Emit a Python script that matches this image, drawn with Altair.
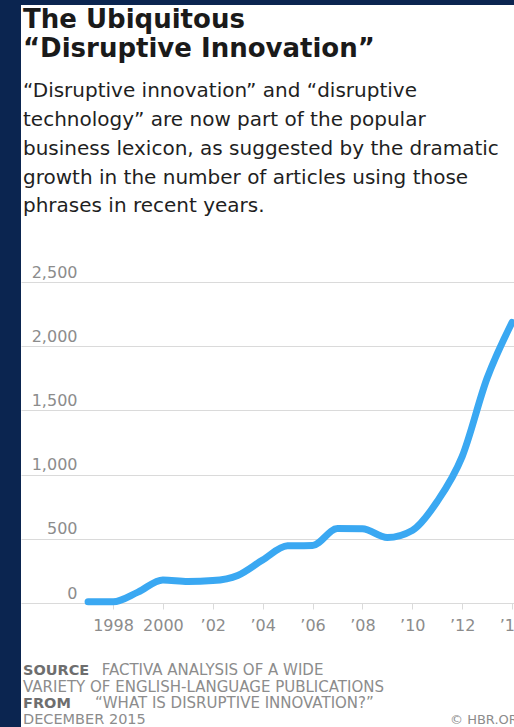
import altair as alt
import pandas as pd

# ---------------- data ----------------
years = [1997, 1998, 1999, 2000, 2001, 2002, 2003, 2004, 2005,
         2006, 2007, 2008, 2009, 2010, 2011, 2012, 2013, 2014]
articles = [10, 10, 85, 180, 168, 175, 215, 335, 445,
            448, 580, 578, 510, 565, 790, 1140, 1750, 2185]
y_ticks = [0, 500, 1000, 1500, 2000, 2500]
x_ticks = [1998, 2000, 2002, 2004, 2006, 2008, 2010, 2012, 2014]

title_lines = ["The Ubiquitous", "“Disruptive Innovation”"]
subtitle_lines = [
    "“Disruptive innovation” and “disruptive",
    "technology” are now part of the popular",
    "business lexicon, as suggested by the dramatic",
    "growth in the number of articles using those",
    "phrases in recent years.",
]
source_label = "SOURCE"
source_text = "FACTIVA ANALYSIS OF A WIDE"
source_text2 = "VARIETY OF ENGLISH-LANGUAGE PUBLICATIONS"
from_label = "FROM"
from_text = "“WHAT IS DISRUPTIVE INNOVATION?”"
date_text = "DECEMBER 2015"
credit_text = "© HBR.ORG"

# ---------------- styles ----------------
NAVY = "#0b2550"
BLUE = "#3aa8f2"
GRID = "#dadada"
AXIS_TEXT = "#8c8c8c"
FONT = "DejaVu Sans"

W, H = 493, 321
PAD = {"left": 21, "top": 282, "right": 0, "bottom": 124}

df = pd.DataFrame({"year": years, "articles": articles})
one = alt.Data(values=[{"k": 0}])

frame_left = alt.Chart(one).mark_rect(color=NAVY).encode(
    x=alt.value(-21), x2=alt.value(0), y=alt.value(-282), y2=alt.value(H + 124)
)
frame_top = alt.Chart(one).mark_rect(color=NAVY).encode(
    x=alt.value(-21), x2=alt.value(W), y=alt.value(-282), y2=alt.value(-277)
)

x_label_expr = ("datum.value <= 2000 ? '' + datum.value : "
                "'\u2019' + slice('' + datum.value, 2)")
y_label_expr = "format(datum.value, ',')"

line = alt.Chart(df).mark_line(
    interpolate="monotone", strokeWidth=7, strokeCap="round",
    strokeJoin="round", color=BLUE
).encode(
    x=alt.X("year:Q",
            scale=alt.Scale(domain=[1994.31, 2014.08], nice=False, zero=False),
            axis=alt.Axis(values=x_ticks, grid=False, domain=False, ticks=True,
                          tickSize=6, tickColor=GRID, tickWidth=1,
                          labelPadding=8, labelFont=FONT, labelFontSize=16,
                          labelColor=AXIS_TEXT, labelExpr=x_label_expr,
                          labelFlush=False, labelOverlap=False, title=None)),
    y=alt.Y("articles:Q",
            scale=alt.Scale(domain=[0, 2500], nice=False),
            axis=alt.Axis(values=y_ticks, grid=True, gridColor=GRID, gridWidth=1,
                          domain=False, ticks=False, tickSize=0,
                          labelPadding=-56, labelAlign="right",
                          labelBaseline="alphabetic", labelOffset=-5,
                          labelFont=FONT, labelFontSize=16, labelColor=AXIS_TEXT,
                          labelExpr=y_label_expr, labelFlush=False, title=None)),
)


def txt(text, x, y, size, color, weight="normal", line_height=None, align="left"):
    kw = dict(align=align, baseline="alphabetic", font=FONT, fontSize=size,
              fontWeight=weight, color=color)
    if line_height is not None:
        kw["lineHeight"] = line_height
    return alt.Chart(one).mark_text(**kw).encode(
        x=alt.value(x), y=alt.value(y), text=alt.value(text)
    )


title = txt(title_lines, 2, 28.3 - 282, 26, "#1a1a1a", "bold", 28.4)
subtitle = txt(subtitle_lines, 2, 97.3 - 282, 20, "#1f1f1f", "normal", 28.75)

SRC = 14.5
src1a = txt(source_label, 2, 675 - 282, SRC, "#6e6e6e", "bold")
src1b = txt(source_text, 80.7, 675 - 282, SRC + 0.5, AXIS_TEXT)
src2 = txt(source_text2, 2, 691.5 - 282, SRC + 0.5, AXIS_TEXT)
src3a = txt(from_label, 2, 708 - 282, SRC, "#6e6e6e", "bold")
src3b = txt(from_text, 74, 708 - 282, SRC + 0.5, AXIS_TEXT)
src4 = txt(date_text, 2, 724 - 282, SRC, AXIS_TEXT)
credit = txt(credit_text, 429, 724 - 282, 13, AXIS_TEXT)

chart = alt.layer(
    frame_left, frame_top, line, title, subtitle,
    src1a, src1b, src2, src3a, src3b, src4, credit
).properties(
    width=W, height=H, padding=PAD,
    autosize=alt.AutoSizeParams(type="none"),
    background="white",
).configure_view(strokeWidth=0)

chart.save("out.html", embed_options={"renderer": "svg", "actions": False})
